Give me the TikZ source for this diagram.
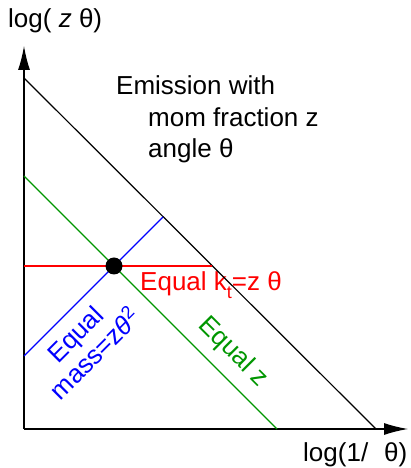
\documentclass[tikz,border=0pt]{standalone}
\usepackage{fontspec}
\setmainfont{Liberation Sans}
\usetikzlibrary{arrows.meta}
\definecolor{vert}{RGB}{0,150,0}
\begin{document}
\begin{tikzpicture}[x=1pt,y=1pt]
% Styles
\tikzstyle{axe}=[-{Latex[length=24pt,width=12pt]},line width=1.2pt]
\tikzstyle{ligne}=[line width=1.2pt]
\tikzstyle{texte}=[inner sep=0pt,font=\fontsize{26}{30}\selectfont]
\tikzstyle{etiquette}=[texte,anchor=base west]
\tikzstyle{point}=[circle,fill=black,minimum size=17pt,inner sep=0pt]
% Dimensions
\def\Gauche{24}
\def\Bas{39}
\def\Haut{422}
\def\Droite{408}
\useasboundingbox (0,0) rectangle (411,468);
% Noeuds
\coordinate (O) at (\Gauche,\Bas);
\coordinate (Y) at (\Gauche,\Haut);
\coordinate (X) at (\Droite,\Bas);
\coordinate (Da) at (\Gauche,390);
\coordinate (Db) at (376,\Bas);
\coordinate (Ra) at (\Gauche,202);
\coordinate (Rb) at (212,202);
\coordinate (Ba) at (\Gauche,112);
\coordinate (Bb) at (163,251);
\coordinate (Va) at (\Gauche,292);
\coordinate (Vb) at (277,\Bas);
\node[etiquette] (Ly) at (8,440) {log( \textit{z} θ)};
\node[etiquette] (Lx) at (303,6) {log(1/\,\, θ)};
\node[etiquette] (E1) at (116,373) {Emission with};
\node[etiquette] (E2) at (148,341) {mom fraction z};
\node[etiquette] (E3) at (148,310) {angle θ};
\node[etiquette,red] (Lr) at (140,177) {Equal k\raisebox{-0.3em}{\fontsize{18}{18}\selectfont t}=z θ};
\node[texte,blue,rotate=45,align=center,font=\fontsize{26}{26}\selectfont] (Lb) at (85,124)
  {Equal\\mass=z\textit{θ}\textsuperscript{2}};
\node[texte,vert,rotate=-45] (Lv) at (233,116) {Equal z};
% Arcs
\draw[axe] (O)--(Y);
\draw[axe] (O)--(X);
\draw[ligne] (Da)--(Db);
\draw[ligne,color=red] (Ra)--(Rb);
\draw[ligne,color=blue] (Ba)--(Bb);
\draw[ligne,color=vert] (Va)--(Vb);
\node[point] (P) at (114,202) {};
\end{tikzpicture}
\end{document}
